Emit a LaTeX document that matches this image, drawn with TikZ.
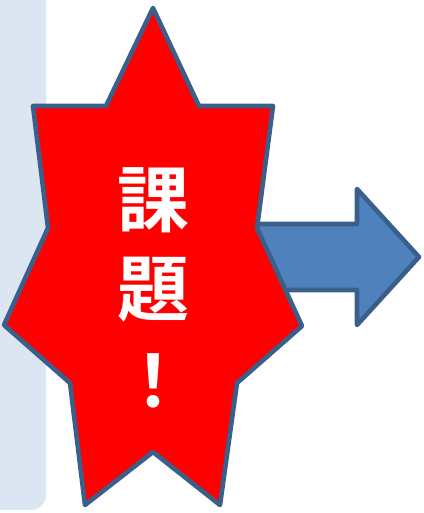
\documentclass[tikz,border=0pt]{standalone}
\usepackage{fontspec}
\newfontfamily\cjkb{Noto Sans CJK JP Bold}
\definecolor{panel}{HTML}{DCE6F2}
\definecolor{edge}{HTML}{3A5F8B}
\definecolor{arrowfill}{HTML}{4F81BD}
\tikzset{
  shapeline/.style={draw=edge, line width=4.6pt, line join=round},
  mark char/.style={text=white, font=\cjkb\fontsize{72}{72}\selectfont, inner sep=0pt}
}
\begin{document}
\begin{tikzpicture}[x=1pt,y=-1pt]
\useasboundingbox (0,0) rectangle (423,513);
% left panel
\fill[panel] (0,-5) -- (46,-5) -- (46,495) arc[start angle=0,end angle=90,radius=15] -- (0,510) -- cycle;
% arrow
\draw[shapeline, fill=arrowfill] (240,224) -- (357,224) -- (357,189) -- (419,257) -- (357,325) -- (357,290) -- (240,290) -- cycle;
% star
\draw[shapeline, fill=red] (153,8) -- (106,106) -- (33,106) -- (48,228) -- (4,325) -- (70,383) -- (85,505) -- (153,452) -- (220,505) -- (237,383) -- (302,326) -- (257,228) -- (273,106) -- (199,106) -- cycle;
% text
\node[mark char] (k1) at (153,200) {課};
\node[mark char] (k2) at (153,290) {題};
\node[mark char] (k3) at (153,381) {！};
\end{tikzpicture}
\end{document}
